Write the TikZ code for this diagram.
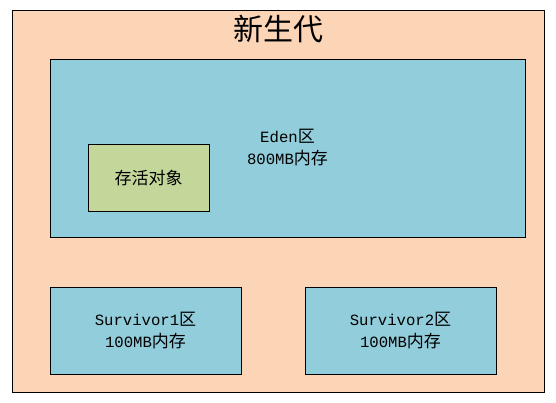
\documentclass[tikz,border=0pt]{standalone}
\usepackage{fontspec}
\setmainfont{Liberation Mono}[Scale=0.92]
\newfontfamily\cjk{Noto Sans CJK SC}
\usepackage{tikz}
\usepackage{xcolor}
\usetikzlibrary{positioning}
\definecolor{genpeach}{RGB}{251,213,181}
\definecolor{edenblue}{RGB}{146,205,220}
\definecolor{livegreen}{RGB}{196,215,155}

\begin{document}
\begin{tikzpicture}[x=1pt,y=-1pt,
    area/.style={draw,line width=0.8pt,inner sep=0pt,align=center,
        font=\fontsize{17}{22}\selectfont}]
    \useasboundingbox (0,0) rectangle (556,403);
    % young generation frame
    \node[area,fill=genpeach,minimum width=532,minimum height=382] (gen) at (278,201) {};
    \node[font=\fontsize{30}{34}\selectfont\cjk] (title) at (278,29) {新生代};

    % eden space and survivors
    \node[area,fill=edenblue,minimum width=475,minimum height=178] (eden) at (287.5,148)
        {Eden{\cjk 区}\\800MB{\cjk 内存}};
    \node[area,fill=livegreen,minimum width=121,minimum height=67] (live) at (148.5,177.5)
        {\cjk 存活对象};
    \node[area,fill=edenblue,minimum width=191,minimum height=87] (surv1) at (145.5,330.5)
        {Survivor1{\cjk 区}\\100MB{\cjk 内存}};
    \node[area,fill=edenblue,minimum width=191,minimum height=87] (surv2) at (400.5,330.5)
        {Survivor2{\cjk 区}\\100MB{\cjk 内存}};
\end{tikzpicture}
\end{document}
